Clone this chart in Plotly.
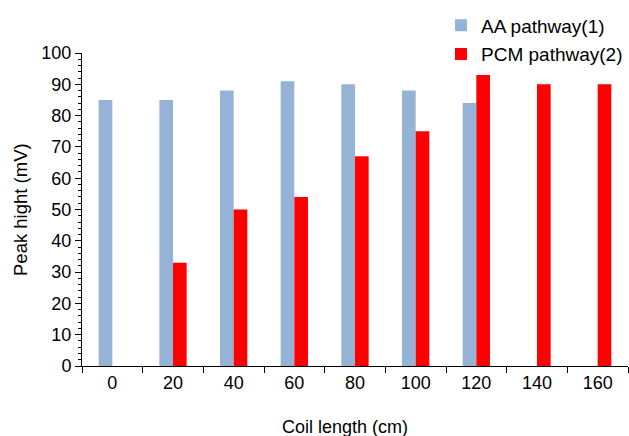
import plotly.graph_objects as go

categories = ["0", "20", "40", "60", "80", "100", "120", "140", "160"]
aa_values = [85, 85, 88, 91, 90, 88, 84, None, None]
pcm_values = [None, 33, 50, 54, 67, 75, 93, 90, 90]

FONT = "Liberation Sans, Arial, sans-serif"

fig = go.Figure()
fig.add_trace(go.Bar(x=categories, y=aa_values, name="AA pathway(1)",
                     marker=dict(color="#95B3D7", line=dict(width=0)),
                     legendgroup="a"))
fig.add_trace(go.Bar(x=categories, y=pcm_values, name="PCM pathway(2)",
                     marker=dict(color="#FF0000", line=dict(width=0)),
                     legendgroup="b"))

fig.update_layout(
    width=629, height=436,
    margin=dict(l=82, r=1, t=53, b=70),
    plot_bgcolor="white", paper_bgcolor="white",
    font=dict(family=FONT, size=18, color="black"),
    barmode="group", bargap=0.55, bargroupgap=0,
    showlegend=True,
    legend=dict(x=0.6575, y=1.149, xanchor="left", yanchor="top",
                font=dict(size=19), traceorder="grouped", tracegroupgap=1,
                bgcolor="rgba(0,0,0,0)"),
    xaxis=dict(type="category", tickson="boundaries", ticks="outside",
               ticklen=6, tickcolor="black", showline=True, linecolor="black",
               linewidth=1, showgrid=False),
    yaxis=dict(range=[0, 100], dtick=10, ticks="outside", ticklen=6,
               tickcolor="black", showline=True, linecolor="black",
               linewidth=1, showgrid=False, zeroline=False,
               minor=dict(dtick=2, ticks="outside", ticklen=3, tickcolor="black")),
    annotations=[
        dict(text="Coil length (cm)", xref="paper", yref="paper",
             x=(344.5 - 82) / 546, y=-(427 - 366) / 313, xanchor="center",
             yanchor="middle", showarrow=False, font=dict(size=18)),
        dict(text="Peak hight (mV)", xref="paper", yref="paper",
             x=-(82 - 20) / 546, y=(366 - 210) / 313, xanchor="center",
             yanchor="middle", textangle=-90, showarrow=False,
             font=dict(size=18.5)),
    ],
)

fig.write_html("out.html")
